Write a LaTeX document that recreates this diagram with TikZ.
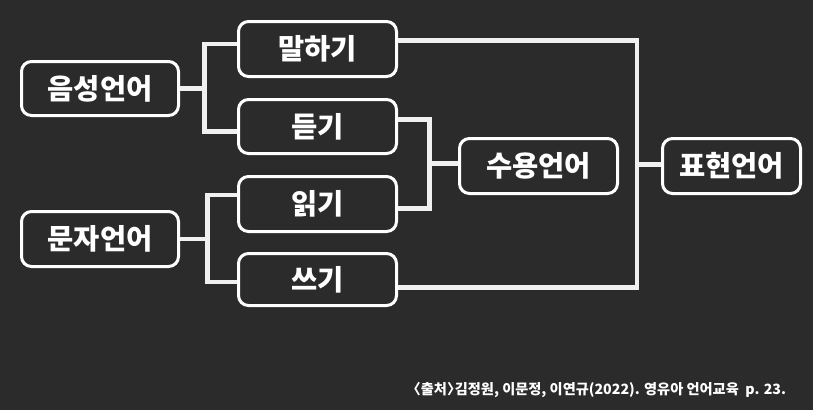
\documentclass[tikz,border=0pt]{standalone}
\usepackage{fontspec}
\newfontfamily\kr{Noto Sans CJK KR}
\definecolor{bgc}{HTML}{2B2B2B}
\definecolor{linec}{HTML}{F0F0F0}
\pgfdeclarelayer{lines}
\pgfsetlayers{lines,main}
\begin{document}
\begin{tikzpicture}[x=1pt,y=-1pt,
  box/.style={draw=white, line width=3pt, rounded corners=10pt, fill=bgc, text=white,
    font=\kr\bfseries\fontsize{28.5}{32}\selectfont, inner sep=0pt},
  conn/.style={draw=linec, line width=4.5pt, line join=miter}]
\useasboundingbox (0,0) rectangle (813,410);
% boxes
\node[box, minimum width=157pt, minimum height=54pt] (ys) at (100,88.5) {음성언어};
\node[box, minimum width=157pt, minimum height=55pt] (mj) at (100,239) {문자언어};
\node[box, minimum width=158pt, minimum height=55pt] (mal) at (317.5,49) {말하기};
\node[box, minimum width=158pt, minimum height=54pt] (deut) at (317.5,126.5) {듣기};
\node[box, minimum width=158pt, minimum height=55pt] (ilk) at (317.5,204) {읽기};
\node[box, minimum width=158pt, minimum height=52pt] (sseu) at (317.5,279.5) {쓰기};
\node[box, minimum width=158pt, minimum height=55pt] (su) at (538.5,166) {수용언어};
\node[box, minimum width=138pt, minimum height=55pt] (pyo) at (731.5,166) {표현언어};
\coordinate (j1) at (204.5,88);
\coordinate (j2) at (429.5,164);
\coordinate (j3) at (637,165);
\coordinate (j4) at (207.5,239);
\node[anchor=base west, inner sep=0pt, text=white, font=\kr\bfseries\fontsize{14.2}{16}\selectfont] (src) at (406.5,394)
  {〈출처〉\kern-0.45em 김정원, 이문정, 이연규(2022). 영유아 언어교육~~p. 23.};
\begin{pgfonlayer}{lines}
\fill[bgc] (0,0) rectangle (813,410);
\draw[conn] ([yshift=5pt]mal.west) -| (j1) |- ([yshift=-5pt]deut.west);
\draw[conn] (ys.east) -- (ys.east -| j1);
\draw[conn] ([yshift=9pt]ilk.west) -| (j4) |- ([yshift=-2.5pt]sseu.west);
\draw[conn] (mj.east) -- (mj.east -| j4);
\draw[conn] ([yshift=7pt]deut.east) -| (j2) |- ([yshift=-4.5pt]ilk.east);
\draw[conn] ([yshift=2.5pt]su.west) -- ([yshift=2.5pt]su.west -| j2);
\draw[conn] ([yshift=8.5pt]mal.east) -| (j3) |- ([yshift=-8pt]sseu.east);
\draw[conn] ([yshift=1.5pt]pyo.west) -- ([yshift=1.5pt]pyo.west -| j3);
\end{pgfonlayer}
\end{tikzpicture}
\end{document}
